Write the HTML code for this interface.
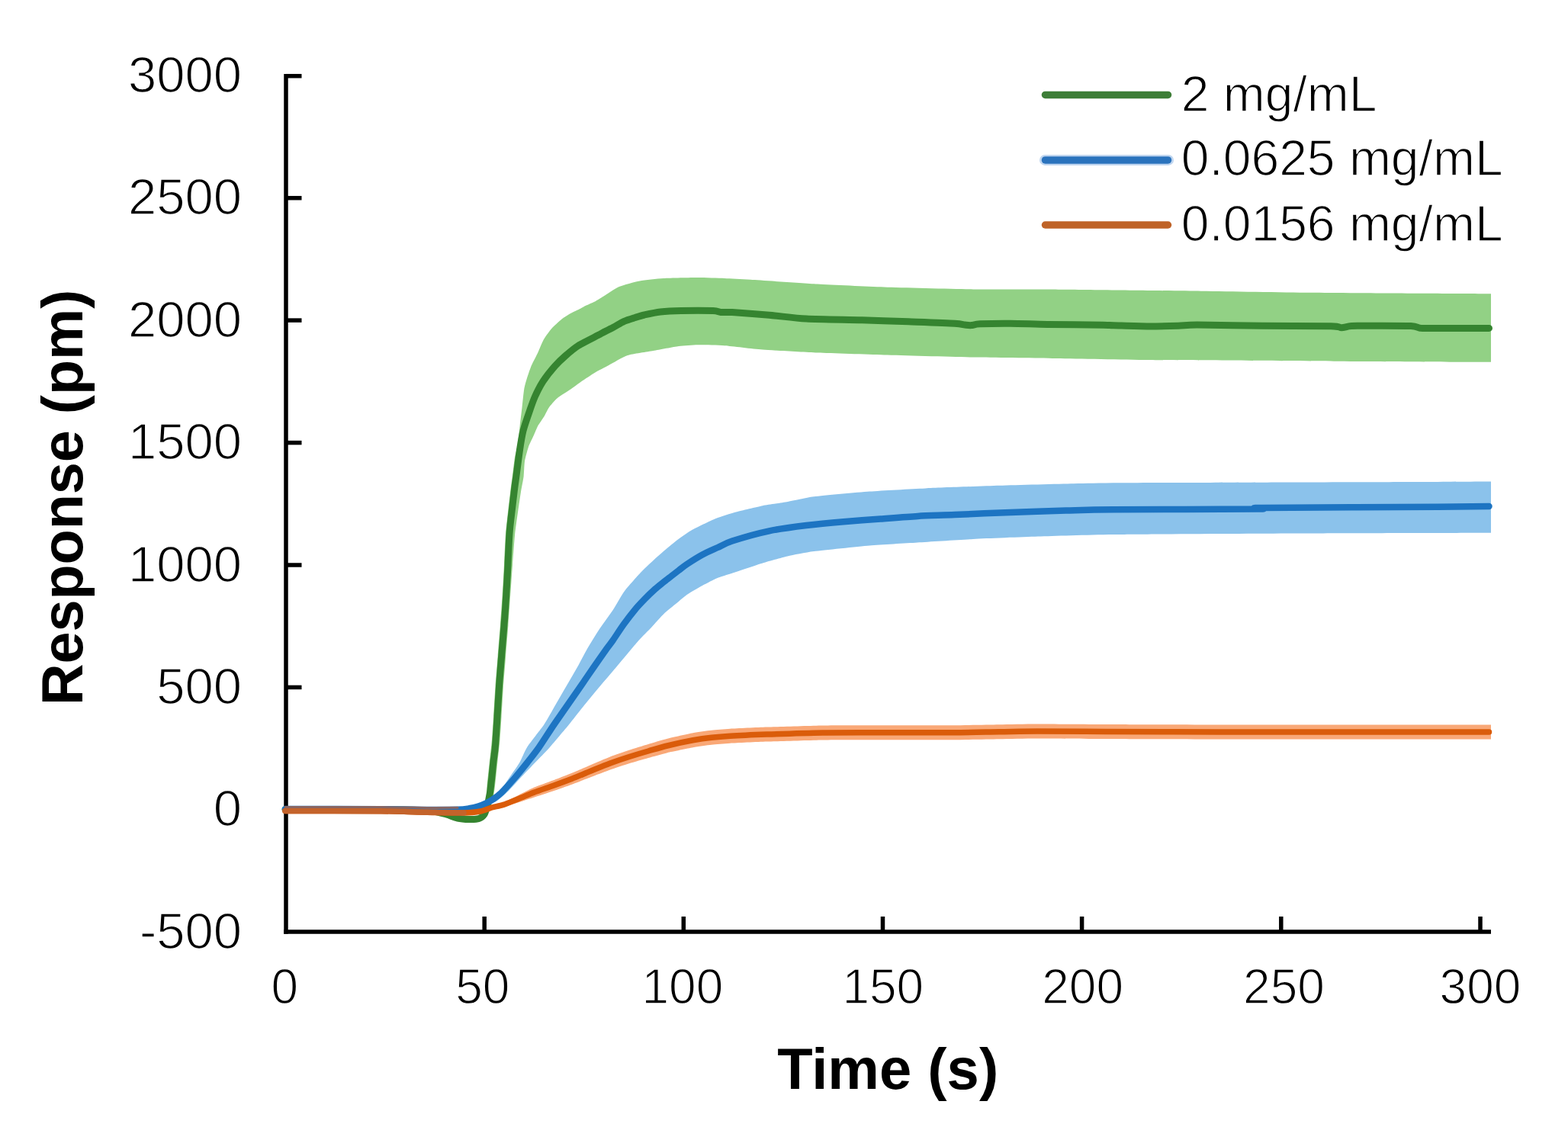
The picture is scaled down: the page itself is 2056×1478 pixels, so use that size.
<!DOCTYPE html>
<html><head><meta charset="utf-8"><title>Response vs Time</title>
<style>html,body{margin:0;padding:0;background:#fff;}svg{display:block;}text{font-family:"Liberation Sans", Arial, Helvetica, sans-serif;fill:#000;}</style></head><body>
<svg xmlns="http://www.w3.org/2000/svg" width="2056" height="1478" viewBox="0 0 2056 1478">
<rect width="2056" height="1478" fill="#fff"/>
<path d="M634.8,1060.0C635.2,1058.5 638.0,1048.0 638.3,1045.0C638.7,1042.0 638.3,1034.5 638.6,1030.0C638.9,1025.5 641.2,1006.0 641.8,1000.0C642.4,994.0 644.5,976.0 645.0,970.0C645.5,964.0 646.6,947.0 647.0,940.0C647.5,933.0 648.9,908.0 649.5,900.0C650.1,892.0 652.1,868.0 652.7,860.0C653.3,852.0 655.3,828.0 655.9,820.0C656.5,812.0 658.2,788.0 658.7,780.0C659.2,772.0 660.6,748.0 661.0,740.0C661.4,732.0 662.5,707.0 663.0,700.0C663.5,693.0 665.6,675.5 666.2,670.0C666.8,664.5 668.6,649.5 669.1,645.0C669.7,640.5 671.2,629.5 671.8,625.0C672.4,620.5 674.3,604.0 675.0,600.0C675.7,596.0 677.8,589.1 678.5,585.0C679.2,580.9 681.0,563.8 681.6,558.7C682.2,553.6 683.9,539.3 684.5,534.4C685.1,529.5 686.6,513.8 687.3,510.0C687.9,506.2 690.0,499.1 691.0,496.0C692.0,492.9 695.5,482.4 697.0,479.0C698.5,475.6 704.0,465.3 705.5,462.0C707.0,458.7 710.9,448.9 712.5,446.0C714.1,443.1 720.0,434.9 721.5,433.0C723.0,431.1 725.5,428.7 727.1,427.1C728.7,425.6 735.7,419.1 737.9,417.5C740.1,415.9 746.5,412.0 748.7,410.8C750.9,409.6 757.6,406.5 759.5,405.5C761.4,404.5 765.7,402.0 767.7,401.0C769.8,400.0 777.6,396.8 780.0,395.5C782.4,394.2 788.3,390.4 791.5,388.5C794.7,386.6 807.1,378.0 811.8,376.0C816.5,374.0 833.0,369.6 838.8,368.5C844.6,367.4 862.4,365.4 870.0,365.0C877.6,364.6 907.0,364.0 915.0,364.0C923.0,364.0 943.1,364.7 950.0,365.0C956.9,365.3 972.1,366.1 984.3,366.8C996.5,367.6 1054.3,371.5 1071.8,372.5C1089.3,373.5 1139.0,375.8 1159.4,376.5C1179.8,377.2 1255.0,379.1 1276.1,379.4C1297.2,379.7 1340.1,379.3 1370.0,379.5C1399.9,379.7 1540.0,381.3 1575.0,381.7C1610.0,382.1 1682.0,383.4 1720.0,383.8C1758.0,384.2 1931.5,385.1 1955.0,385.2L1955.0,474.8C1934.4,474.7 1794.4,474.0 1749.0,473.7C1703.6,473.4 1537.9,472.3 1501.0,471.9C1464.1,471.5 1402.5,470.2 1380.0,469.9C1357.5,469.6 1298.2,468.9 1276.1,468.5C1254.0,468.1 1179.8,466.1 1159.4,465.5C1139.0,464.9 1087.7,463.3 1071.8,462.6C1055.9,461.9 1012.2,459.4 1000.0,458.5C987.8,457.6 958.5,453.8 950.0,453.2C941.5,452.6 921.0,452.1 915.0,452.2C909.0,452.3 895.8,453.2 890.0,454.0C884.2,454.8 863.4,458.8 856.7,460.0C850.0,461.2 828.9,464.1 823.0,466.0C817.1,467.9 802.5,476.7 798.2,479.0C793.9,481.3 783.5,486.6 780.0,488.7C776.5,490.8 765.8,497.9 762.7,500.0C759.6,502.1 752.2,507.8 749.0,510.0C745.8,512.2 733.6,519.8 730.7,522.2C727.8,524.6 721.5,532.0 719.8,534.4C718.1,536.8 714.8,544.1 713.3,546.5C711.8,548.9 706.5,556.4 705.2,558.7C703.9,561.1 701.5,567.2 700.3,570.0C699.1,572.8 694.1,582.7 692.9,586.2C691.7,589.7 688.6,601.1 688.0,605.0C687.4,608.9 687.1,621.0 686.6,625.0C686.1,629.0 683.7,640.5 683.0,645.0C682.3,649.5 680.1,664.5 679.3,670.0C678.5,675.5 676.0,693.0 675.2,700.0C674.5,707.0 672.7,732.0 672.1,740.0C671.5,748.0 669.8,772.0 669.2,780.0C668.6,788.0 667.0,812.0 666.4,820.0C665.8,828.0 663.8,852.0 663.2,860.0C662.6,868.0 660.6,892.0 660.0,900.0C659.4,908.0 658.0,933.0 657.5,940.0C657.1,947.0 656.0,964.0 655.5,970.0C655.0,976.0 652.9,994.0 652.3,1000.0C651.7,1006.0 649.6,1025.5 649.1,1030.0C648.6,1034.5 647.4,1042.0 646.8,1045.0C646.3,1048.0 643.7,1058.5 643.3,1060.0Z" fill="#92d185"/>
<path d="M612.0,1060.0C613.8,1059.5 626.6,1056.5 630.0,1055.0C633.4,1053.5 643.3,1047.5 646.0,1045.5C648.7,1043.5 654.8,1038.0 657.0,1035.5C659.2,1033.0 665.3,1023.5 667.7,1020.0C670.1,1016.5 679.0,1004.0 681.3,1000.0C683.6,996.0 687.9,985.0 691.1,980.0C694.3,975.0 709.8,955.5 713.5,950.0C717.2,944.5 725.1,930.0 728.0,925.0C730.9,920.0 739.6,905.0 742.5,900.0C745.4,895.0 754.2,880.0 757.0,875.0C759.8,870.0 767.6,855.0 770.5,850.0C773.4,845.0 782.7,830.0 786.0,825.0C789.3,820.0 800.4,805.0 803.7,800.0C807.0,795.0 815.3,780.0 819.0,775.0C822.7,770.0 836.6,754.5 840.9,750.0C845.2,745.5 857.5,734.0 862.0,730.0C866.5,726.0 881.3,713.4 885.7,710.0C890.1,706.6 900.9,698.7 906.2,695.7C911.5,692.7 932.7,682.4 938.6,680.0C944.5,677.6 958.9,673.2 965.0,671.5C971.1,669.8 993.2,664.6 1000.0,663.2C1006.8,661.9 1026.3,659.2 1033.0,658.0C1039.7,656.8 1056.6,652.6 1067.3,651.3C1078.0,649.9 1125.6,645.6 1140.2,644.5C1154.8,643.4 1196.2,641.2 1213.2,640.4C1230.2,639.6 1291.0,637.4 1310.5,636.8C1330.0,636.2 1391.8,634.6 1407.7,634.3C1423.7,633.9 1440.5,633.5 1470.0,633.3C1499.5,633.1 1663.9,632.5 1703.0,632.4C1742.1,632.3 1835.8,632.0 1861.0,631.9C1886.2,631.8 1945.6,631.4 1955.0,631.4L1955.0,698.8C1929.8,698.9 1752.5,699.3 1703.0,699.5C1653.5,699.7 1494.2,700.6 1460.0,701.0C1425.8,701.4 1379.4,703.0 1361.0,703.6C1342.6,704.2 1291.8,706.2 1276.0,707.0C1260.2,707.8 1216.6,710.6 1203.0,711.5C1189.4,712.4 1153.8,714.3 1140.2,715.5C1126.6,716.7 1078.1,721.7 1067.3,723.1C1056.5,724.5 1039.3,728.0 1032.6,729.5C1025.9,731.0 1007.3,736.3 1000.0,738.5C992.7,740.7 965.9,749.8 960.0,751.7C954.1,753.6 945.1,756.2 941.2,757.8C937.3,759.4 925.0,765.8 920.9,768.0C916.8,770.2 903.7,777.9 900.6,780.0C897.5,782.1 892.9,786.3 890.0,788.7C887.1,791.1 874.8,800.9 871.2,804.3C867.6,807.7 857.4,819.4 854.0,823.0C850.6,826.6 842.0,834.8 837.4,840.0C832.8,845.2 813.1,869.0 808.0,875.0C802.9,881.0 790.9,895.0 786.7,900.0C782.5,905.0 770.0,920.0 766.0,925.0C762.0,930.0 750.7,944.5 746.2,950.0C741.7,955.5 725.4,975.0 720.9,980.0C716.4,985.0 705.5,996.0 701.7,1000.0C697.9,1004.0 686.1,1016.3 682.6,1020.0C679.1,1023.7 670.1,1034.0 667.0,1037.0C663.9,1040.0 655.2,1047.9 652.0,1050.0C648.8,1052.1 639.0,1056.9 635.0,1058.0C631.0,1059.1 614.3,1060.7 612.0,1061.0Z" fill="#8bc2eb"/>
<path d="M374.0,1063.0C386.6,1063.0 484.4,1063.2 500.0,1063.3C515.6,1063.4 524.0,1063.7 530.0,1063.8C536.0,1063.9 552.2,1064.5 560.0,1064.7C567.8,1064.9 601.0,1065.6 608.0,1065.5C615.0,1065.4 626.3,1064.3 630.0,1063.5C633.7,1062.7 642.0,1058.3 645.0,1057.2C648.0,1056.1 656.5,1053.8 660.0,1052.3C663.5,1050.9 676.0,1044.7 680.0,1042.7C684.0,1040.8 695.5,1034.7 700.0,1032.8C704.5,1030.9 720.0,1025.4 725.0,1023.5C730.0,1021.6 745.0,1015.8 750.0,1013.8C755.0,1011.8 770.0,1005.1 775.0,1003.0C780.0,1000.9 795.0,994.4 800.0,992.5C805.0,990.6 820.0,985.4 825.0,983.8C830.0,982.1 845.0,977.5 850.0,976.0C855.0,974.5 869.1,970.2 875.0,968.8C880.9,967.3 902.8,962.4 908.6,961.3C914.4,960.2 928.1,958.3 933.0,957.8C937.9,957.2 950.0,956.2 957.3,955.8C964.6,955.4 993.7,954.0 1005.9,953.6C1018.1,953.2 1064.3,951.6 1078.9,951.4C1093.5,951.2 1134.8,951.2 1151.8,951.2C1168.8,951.2 1233.3,951.3 1249.1,951.2C1264.9,951.1 1298.8,950.5 1309.9,950.3C1321.0,950.1 1346.0,949.5 1360.0,949.5C1374.0,949.5 1426.0,949.9 1450.0,950.0C1474.0,950.1 1565.0,950.5 1600.0,950.5C1635.0,950.5 1764.5,950.5 1800.0,950.5C1835.5,950.5 1939.5,950.5 1955.0,950.5L1955.0,969.5C1939.5,969.5 1835.5,969.5 1800.0,969.5C1764.5,969.5 1635.0,969.5 1600.0,969.5C1565.0,969.5 1474.0,969.1 1450.0,969.0C1426.0,968.9 1374.0,968.5 1360.0,968.5C1346.0,968.5 1321.0,969.1 1309.9,969.3C1298.8,969.5 1264.9,970.1 1249.1,970.2C1233.3,970.3 1168.8,970.2 1151.8,970.2C1134.8,970.2 1093.5,970.2 1078.9,970.4C1064.3,970.6 1018.1,972.2 1005.9,972.6C993.7,973.0 964.6,974.4 957.3,974.8C950.0,975.2 937.9,976.2 933.0,976.8C928.1,977.3 914.4,979.3 908.6,980.3C902.8,981.3 880.9,985.9 875.0,987.2C869.1,988.6 855.0,992.6 850.0,994.0C845.0,995.4 830.0,999.7 825.0,1001.2C820.0,1002.8 805.0,1007.7 800.0,1009.5C795.0,1011.3 780.0,1017.1 775.0,1019.0C770.0,1020.9 755.0,1027.0 750.0,1028.8C745.0,1030.6 730.0,1035.8 725.0,1037.5C720.0,1039.2 704.5,1044.3 700.0,1045.8C695.5,1047.3 684.0,1051.0 680.0,1052.3C676.0,1053.6 663.5,1057.6 660.0,1058.5C656.5,1059.3 648.0,1060.2 645.0,1060.8C642.0,1061.4 633.7,1063.9 630.0,1064.5C626.3,1065.1 615.0,1066.4 608.0,1066.5C601.0,1066.6 567.8,1065.9 560.0,1065.7C552.2,1065.5 536.0,1064.9 530.0,1064.8C524.0,1064.7 515.6,1064.4 500.0,1064.3C484.4,1064.2 386.6,1064.0 374.0,1064.0Z" fill="#f9a877"/>
<g stroke="#000" stroke-width="5.5" fill="none" stroke-linecap="butt">
<line x1="375.0" y1="97" x2="375.0" y2="1224.8"/>
<line x1="372.2" y1="1222.0" x2="1955" y2="1222.0"/>
<line x1="375.0" y1="1061.8" x2="395.5" y2="1061.8"/>
<line x1="375.0" y1="901.4" x2="395.5" y2="901.4"/>
<line x1="375.0" y1="741.0" x2="395.5" y2="741.0"/>
<line x1="375.0" y1="580.6" x2="395.5" y2="580.6"/>
<line x1="375.0" y1="420.1" x2="395.5" y2="420.1"/>
<line x1="375.0" y1="259.7" x2="395.5" y2="259.7"/>
<line x1="375.0" y1="99.7" x2="395.5" y2="99.7"/>
<line x1="635.2" y1="1202" x2="635.2" y2="1222.0"/>
<line x1="896.3" y1="1202" x2="896.3" y2="1222.0"/>
<line x1="1157.5" y1="1202" x2="1157.5" y2="1222.0"/>
<line x1="1418.6" y1="1202" x2="1418.6" y2="1222.0"/>
<line x1="1679.8" y1="1202" x2="1679.8" y2="1222.0"/>
<line x1="1941.0" y1="1202" x2="1941.0" y2="1222.0"/>
</g>
<path d="M374.0,1061.5C384.1,1061.5 429.2,1061.4 450.0,1061.5C470.8,1061.6 514.7,1061.7 530.0,1062.0C545.3,1062.3 557.7,1062.7 565.0,1063.5C572.3,1064.3 580.3,1066.7 585.0,1068.0C589.7,1069.3 596.0,1072.1 600.0,1073.0C604.0,1073.9 611.3,1074.4 615.0,1074.5C618.7,1074.6 625.3,1074.4 628.0,1073.5C630.7,1072.6 633.6,1070.1 635.0,1068.0C636.4,1065.9 637.7,1061.2 638.7,1057.5C639.7,1053.8 641.6,1045.0 642.4,1040.0C643.2,1035.0 644.2,1025.3 644.8,1020.0C645.4,1014.7 646.2,1005.3 646.8,1000.0C647.4,994.7 648.7,986.7 649.3,980.0C649.9,973.3 650.7,960.7 651.4,950.0C652.1,939.3 653.6,913.3 654.5,900.0C655.4,886.7 657.4,863.3 658.5,850.0C659.6,836.7 661.6,813.3 662.5,800.0C663.4,786.7 664.8,763.3 665.5,750.0C666.2,736.7 667.2,710.7 668.0,700.0C668.8,689.3 670.3,677.7 671.2,670.0C672.1,662.3 673.7,648.7 674.5,642.0C675.3,635.3 676.6,626.9 677.5,620.0C678.4,613.1 680.4,597.3 681.5,590.0C682.6,582.7 684.3,571.7 686.0,565.0C687.7,558.3 692.0,546.0 694.1,540.0C696.2,534.0 699.1,525.3 701.5,520.0C703.9,514.7 708.6,505.3 712.1,500.0C715.6,494.7 723.8,484.4 727.7,480.0C731.6,475.6 737.0,470.5 741.0,467.0C745.0,463.5 752.2,457.2 758.0,453.5C763.8,449.8 780.5,441.6 784.8,439.3C789.1,437.0 787.4,437.7 790.0,436.4C792.6,435.1 800.4,431.3 804.2,429.3C808.0,427.3 814.6,423.1 818.4,421.4C822.2,419.7 829.3,417.6 832.8,416.5C836.3,415.4 840.6,414.0 845.0,413.0C849.4,412.0 859.5,409.7 865.9,409.0C872.3,408.3 883.8,407.7 893.0,407.5C902.2,407.3 928.1,407.3 935.0,407.6C941.9,407.9 941.7,409.2 945.0,409.5C948.3,409.8 951.5,409.1 960.0,409.6C968.5,410.1 995.6,412.1 1008.6,413.2C1021.6,414.3 1041.1,417.2 1057.3,418.1C1073.5,419.0 1112.4,419.3 1130.2,419.8C1148.0,420.3 1174.8,421.2 1191.0,421.8C1207.2,422.4 1241.9,423.6 1251.8,424.2C1261.7,424.8 1262.1,425.7 1265.0,426.0C1267.9,426.3 1271.0,426.8 1273.7,426.6C1276.4,426.4 1278.2,425.1 1285.0,424.8C1291.8,424.5 1313.0,424.1 1324.8,424.2C1336.6,424.3 1357.2,425.1 1373.4,425.4C1389.6,425.7 1434.9,426.1 1446.4,426.3C1457.9,426.5 1452.3,426.6 1460.0,426.8C1467.7,427.0 1492.5,427.9 1503.8,428.0C1515.1,428.1 1536.3,427.5 1545.0,427.2C1553.7,426.9 1554.8,426.0 1569.4,426.0C1584.0,426.0 1631.2,427.0 1654.6,427.2C1678.0,427.4 1731.1,427.5 1745.0,427.8C1758.9,428.1 1755.5,429.7 1759.1,429.7C1762.7,429.7 1766.5,427.8 1772.0,427.5C1777.5,427.2 1790.1,427.2 1800.5,427.2C1810.9,427.2 1841.8,427.1 1850.0,427.5C1858.2,427.9 1858.9,429.8 1862.0,430.2C1865.1,430.6 1861.3,430.4 1873.4,430.4C1885.5,430.4 1942.0,430.4 1952.5,430.4" fill="none" stroke="#358430" stroke-width="9.0" stroke-linejoin="round" stroke-linecap="round"/>
<path d="M374.0,1061.0C390.8,1061.0 475.2,1061.1 500.0,1061.2C524.8,1061.3 546.7,1061.9 560.0,1062.0C573.3,1062.1 592.7,1062.0 600.0,1061.8C607.3,1061.6 611.4,1060.9 615.0,1060.3C618.6,1059.7 624.1,1058.4 627.0,1057.5C629.9,1056.6 634.5,1054.7 637.0,1053.5C639.5,1052.3 643.3,1050.3 646.0,1048.5C648.7,1046.7 653.1,1043.8 657.0,1040.0C660.9,1036.2 670.6,1025.3 675.2,1020.0C679.8,1014.7 687.3,1005.3 691.5,1000.0C695.7,994.7 702.1,986.7 706.8,980.0C711.5,973.3 721.6,957.3 726.6,950.0C731.6,942.7 739.4,931.7 744.0,925.0C748.6,918.3 756.8,906.7 761.4,900.0C766.0,893.3 774.0,881.5 778.5,875.0C783.0,868.5 792.0,855.7 795.3,851.0C798.6,846.3 800.5,844.3 803.5,840.0C806.5,835.7 814.0,824.0 818.0,818.5C822.0,813.0 829.8,803.0 833.5,798.5C837.2,794.0 842.6,788.5 846.0,785.0C849.4,781.5 855.8,775.4 859.0,772.5C862.2,769.6 867.2,765.8 870.0,763.5C872.8,761.2 877.6,757.6 880.3,755.5C883.0,753.4 887.3,750.1 890.0,748.0C892.7,745.9 896.5,742.7 900.6,740.0C904.7,737.3 915.5,730.4 920.9,727.5C926.3,724.6 936.0,720.4 941.2,718.0C946.4,715.6 951.0,712.4 960.0,709.5C969.0,706.6 995.6,699.0 1008.6,696.3C1021.6,693.6 1044.3,690.6 1057.3,689.0C1070.3,687.4 1092.9,685.3 1105.9,684.2C1118.9,683.1 1141.6,681.5 1154.6,680.5C1167.6,679.5 1190.2,677.6 1203.2,676.9C1216.2,676.2 1235.6,675.7 1251.8,675.0C1268.0,674.3 1305.3,672.7 1324.8,672.0C1344.3,671.3 1379.7,670.1 1397.7,669.6C1415.7,669.1 1426.4,668.5 1460.0,668.2C1493.6,667.9 1623.8,667.9 1649.7,667.6C1675.6,667.3 1623.1,666.3 1654.6,665.9C1686.1,665.5 1845.9,665.0 1885.6,664.7C1925.3,664.4 1943.6,664.1 1952.5,664.0" fill="none" stroke="#1d74c2" stroke-width="8.5" stroke-linejoin="round" stroke-linecap="round"/>
<path d="M374.0,1063.5C390.8,1063.5 479.2,1063.7 500.0,1063.8C520.8,1063.9 522.0,1064.1 530.0,1064.3C538.0,1064.5 549.6,1065.0 560.0,1065.2C570.4,1065.4 598.7,1066.2 608.0,1066.0C617.3,1065.8 625.1,1064.9 630.0,1064.0C634.9,1063.1 641.0,1060.1 645.0,1059.0C649.0,1057.9 655.3,1056.9 660.0,1055.4C664.7,1053.9 674.7,1049.6 680.0,1047.5C685.3,1045.4 694.0,1041.6 700.0,1039.3C706.0,1037.0 718.3,1032.9 725.0,1030.5C731.7,1028.1 743.3,1023.9 750.0,1021.3C756.7,1018.7 768.3,1013.7 775.0,1011.0C781.7,1008.3 793.3,1003.5 800.0,1001.0C806.7,998.5 818.3,994.6 825.0,992.5C831.7,990.4 843.3,986.9 850.0,985.0C856.7,983.1 867.2,979.9 875.0,978.0C882.8,976.1 900.9,972.2 908.6,970.8C916.3,969.4 926.5,968.0 933.0,967.3C939.5,966.6 947.6,965.9 957.3,965.3C967.0,964.7 989.7,963.7 1005.9,963.1C1022.1,962.5 1059.4,961.2 1078.9,960.9C1098.4,960.6 1129.1,960.7 1151.8,960.7C1174.5,960.7 1228.0,960.8 1249.1,960.7C1270.2,960.6 1295.1,960.0 1309.9,959.8C1324.7,959.6 1341.3,959.0 1360.0,959.0C1378.7,959.0 1418.0,959.4 1450.0,959.5C1482.0,959.6 1553.3,959.9 1600.0,960.0C1646.7,960.1 1753.0,960.0 1800.0,960.0C1847.0,960.0 1932.2,960.0 1952.5,960.0" fill="none" stroke="#da5c0a" stroke-width="7.5" stroke-linejoin="round" stroke-linecap="round"/>
<path d="M374.0,1063.5C390.8,1063.5 479.2,1063.7 500.0,1063.8C520.8,1063.9 522.0,1064.1 530.0,1064.3C538.0,1064.5 549.6,1065.0 560.0,1065.2C570.4,1065.4 601.6,1065.9 608.0,1066.0" fill="none" stroke="#bf6431" stroke-width="7.5" stroke-linejoin="round" stroke-linecap="round" opacity="0.85"/>
<path d="M374.0,1058.4C390.8,1058.4 475.2,1058.5 500.0,1058.6C524.8,1058.7 546.7,1059.3 560.0,1059.4C573.3,1059.5 594.7,1059.2 600.0,1059.2" fill="none" stroke="#93655a" stroke-width="3" stroke-linecap="round" opacity="0.9"/>
<g font-size="67" text-anchor="end" stroke="#fff" stroke-width="1.4">
<text x="317" y="1243.8">-500</text>
<text x="317" y="1083.4">0</text>
<text x="317" y="923.0">500</text>
<text x="317" y="762.6">1000</text>
<text x="317" y="602.2">1500</text>
<text x="317" y="441.7">2000</text>
<text x="317" y="281.3">2500</text>
<text x="317" y="120.9">3000</text>
</g>
<g font-size="64" text-anchor="middle" stroke="#fff" stroke-width="1.4">
<text x="373.4" y="1316">0</text>
<text x="632.8" y="1316">50</text>
<text x="894.9" y="1316">100</text>
<text x="1157.8" y="1316">150</text>
<text x="1419.6" y="1316">200</text>
<text x="1683.5" y="1316">250</text>
<text x="1941.0" y="1316">300</text>
</g>
<text x="1164.2" y="1428" font-size="76" font-weight="bold" text-anchor="middle">Time (s)</text>
<text transform="translate(108.4,652.4) rotate(-90)" x="0" y="0" font-size="75.5" font-weight="bold" text-anchor="middle">Response (pm)</text>
<line x1="1370" y1="209.9" x2="1532" y2="209.9" stroke="#c0d6f0" stroke-width="14" stroke-linecap="round"/>
<line x1="1370.5" y1="124.4" x2="1531.5" y2="124.4" stroke="#3e7e38" stroke-width="9.5" stroke-linecap="round"/>
<text x="1548.7" y="145.7" font-size="66" stroke="#fff" stroke-width="1.4">2 mg/mL</text>
<line x1="1370.5" y1="209.9" x2="1531.5" y2="209.9" stroke="#2a73bd" stroke-width="9.5" stroke-linecap="round"/>
<text x="1548.7" y="229.8" font-size="66" stroke="#fff" stroke-width="1.4">0.0625 mg/mL</text>
<line x1="1370.5" y1="295.0" x2="1531.5" y2="295.0" stroke="#bf6328" stroke-width="9.5" stroke-linecap="round"/>
<text x="1548.7" y="315.9" font-size="66" stroke="#fff" stroke-width="1.4">0.0156 mg/mL</text>
</svg></body></html>
